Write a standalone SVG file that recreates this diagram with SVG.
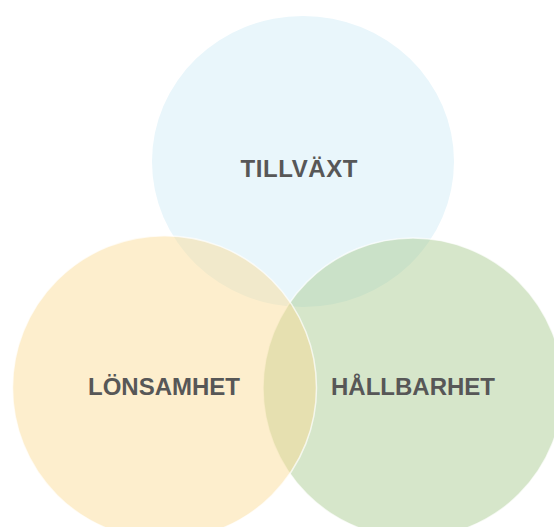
<svg xmlns="http://www.w3.org/2000/svg" width="554" height="527" viewBox="0 0 554 527">
  <style>
    .lbl { font-family: "Liberation Sans", Arial, sans-serif; font-weight: bold; font-size: 24px; fill: #575757; text-anchor: middle; }
    .ring { stroke: #ffffff; stroke-width: 1.5; stroke-opacity: 0.7; }
  </style>
  <rect width="554" height="527" fill="#ffffff"/>
  <g id="tillvaxt">
    <ellipse cx="303" cy="161.5" rx="151" ry="145.5" fill="#e9f6fb"/>
    <text class="lbl" x="299" y="177" textLength="117" lengthAdjust="spacing">TILLVÄXT</text>
  </g>
  <g id="hallbarhet">
    <circle class="ring" cx="413" cy="388" r="150" fill="#a4c789" fill-opacity="0.45"/>
  </g>
  <g id="lonsamhet">
    <circle class="ring" cx="164.5" cy="387.7" r="152" fill="#fbda90" fill-opacity="0.45"/>
  </g>
  <g id="labels">
    <text class="lbl" x="164" y="394.5">LÖNSAMHET</text>
    <text class="lbl" x="413" y="394.5">HÅLLBARHET</text>
  </g>
  <g id="connectors"/>
</svg>
